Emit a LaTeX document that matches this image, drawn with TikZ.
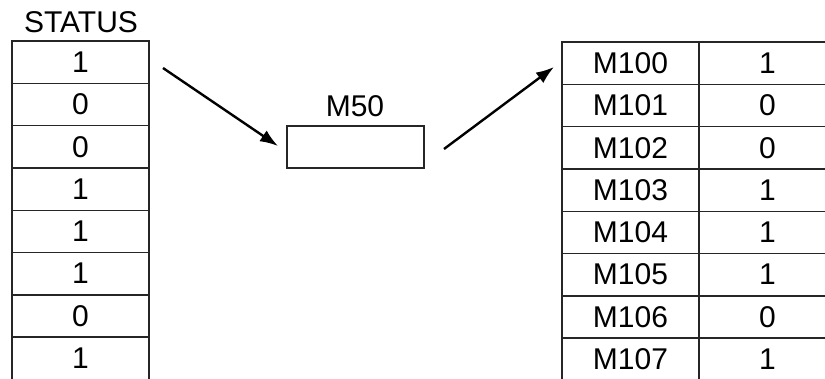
\documentclass[tikz,border=0pt]{standalone}
\usepackage{fontspec}
\setmainfont{Liberation Sans}
\usetikzlibrary{arrows.meta}
\begin{document}
\begin{tikzpicture}[x=1pt,y=-1pt,
  cell/.style={draw=black!85,line width=1.4pt,minimum width=137pt,minimum height=42.3pt,inner sep=0pt,
    font=\fontsize{30}{32}\selectfont},
  lbl/.style={inner sep=0pt,font=\fontsize{30}{32}\selectfont},
  arr/.style={line width=2.4pt,-{Latex[length=18pt,width=13pt]}}]
\useasboundingbox (0,0) rectangle (825,378);
\clip (0,0) rectangle (825,378);
\node[lbl] (status) at (81,22) {STATUS};
\foreach \v [count=\i from 0] in {1,0,0,1,1,1,0,1}{
  \node[cell] (L\i) at (80.5,{41+21.15+42.3*\i}) {\v};
}
\foreach \m/\v [count=\i from 0] in {M100/1,M101/0,M102/0,M103/1,M104/1,M105/1,M106/0,M107/1}{
  \node[cell] (A\i) at (630.5,{42+21.15+42.3*\i}) {\m};
  \node[cell] (B\i) at (767.5,{42+21.15+42.3*\i}) {\v};
}
\node[draw=black!85,line width=1.4pt,minimum width=137pt,minimum height=42pt,inner sep=0pt] (m50) at (355.5,147) {};
\node[lbl] (m50l) at (355,106) {M50};
\coordinate (s1) at (163,68);
\coordinate (e1) at (278,146);
\coordinate (s2) at (444,149);
\coordinate (e2) at (554,67);
\draw[arr] (s1) -- (e1);
\draw[arr] (s2) -- (e2);
\end{tikzpicture}
\end{document}
